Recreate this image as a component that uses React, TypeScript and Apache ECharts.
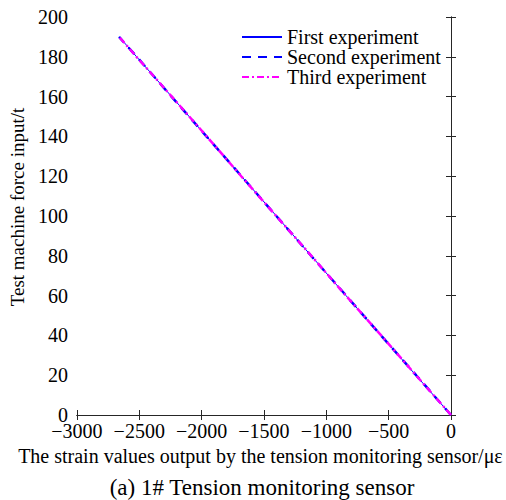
import React, { useEffect, useRef } from "react";
import * as echarts from "echarts";

const forceInput = [0, 20, 40, 60, 80, 100, 120, 140, 160, 180, 190];
const strainFirst = [0, -282, -561, -842, -1121, -1400, -1681, -1960, -2240, -2521, -2660];
const strainSecond = [0, -280, -562, -841, -1122, -1401, -1680, -1961, -2241, -2520, -2662];
const strainThird = [0, -281, -560, -843, -1120, -1402, -1682, -1959, -2239, -2522, -2661];
const seriesNames = ["First experiment", "Second experiment", "Third experiment"];
const caption = "(a) 1# Tension monitoring sensor";

const FONT = "Liberation Serif";
const FS = 20;

export default function App() {
  const ref = useRef<HTMLDivElement>(null);
  useEffect(() => {
    if (!ref.current) return;
    const chart = echarts.init(ref.current, undefined, { renderer: "svg" });
    const toPairs = (xs: number[]) => xs.map((x, i) => [x, forceInput[i]]);
    const axisLine = { show: true, lineStyle: { color: "#262626", width: 1 } };
    const tick = { show: true, inside: true, length: 5, lineStyle: { color: "#262626" } };
    const minus = (v: number) => String(v).replace("-", "\u2212");
    chart.setOption({
      animation: false,
      backgroundColor: "#fff",
      textStyle: { fontFamily: FONT },
      grid: { left: 73, right: 55, top: 17, bottom: 85 },
      graphic: [
        {
          type: "text",
          style: {
            text: caption,
            x: 262,
            y: 487,
            align: "center",
            verticalAlign: "middle",
            fontFamily: FONT,
            fontSize: 23,
            fill: "#000",
          },
        },
      ],
      legend: {
        left: 236,
        top: 22,
        orient: "vertical",
        itemWidth: 40,
        itemHeight: 8,
        itemGap: 0,
        itemStyle: { opacity: 0 },
        textStyle: { fontFamily: FONT, fontSize: FS, color: "#000", lineHeight: 17.5 },
        data: seriesNames,
      },
      xAxis: [
        {
          type: "value",
          min: -3000,
          max: 0,
          interval: 500,
          position: "bottom",
          axisLine,
          axisTick: tick,
          axisLabel: { fontFamily: FONT, fontSize: FS, color: "#000", margin: 6, formatter: minus },
          splitLine: { show: false },
          name: "The strain values output by the tension monitoring sensor/\u03bc\u03b5",
          nameLocation: "middle",
          nameGap: 28,
          nameTextStyle: { fontFamily: FONT, fontSize: 20, color: "#000", padding: [0, 7, 0, 0] },
        },
        {
          type: "value",
          min: -3000,
          max: 0,
          interval: 500,
          position: "top",
          axisLine,
          axisTick: tick,
          axisLabel: { show: false },
          splitLine: { show: false },
        },
      ],
      yAxis: [
        {
          type: "value",
          min: 0,
          max: 200,
          interval: 20,
          position: "left",
          axisLine,
          axisTick: tick,
          axisLabel: { fontFamily: FONT, fontSize: FS, color: "#000", margin: 9 },
          splitLine: { show: false },
          name: "Test machine force input/t",
          nameLocation: "middle",
          nameGap: 45,
          nameTextStyle: { fontFamily: FONT, fontSize: 19, color: "#000", padding: [0, 0, 0, 18] },
        },
        {
          type: "value",
          min: 0,
          max: 200,
          interval: 20,
          position: "right",
          axisLine,
          axisTick: tick,
          axisLabel: { show: false },
          splitLine: { show: false },
        },
      ],
      series: [
        {
          name: seriesNames[0],
          type: "line",
          data: toPairs(strainFirst),
          symbol: "none",
          color: "#0000ff",
          lineStyle: { color: "#0000ff", width: 1 },
        },
        {
          name: seriesNames[1],
          type: "line",
          data: toPairs(strainSecond),
          symbol: "none",
          color: "#0000ff",
          lineStyle: { color: "#0000ff", width: 2.5, type: [9, 7] },
        },
        {
          name: seriesNames[2],
          type: "line",
          data: toPairs(strainThird),
          symbol: "none",
          color: "#ff00ff",
          lineStyle: { color: "#ff00ff", width: 2.5, type: [7, 3, 2, 3] },
        },
      ],
    });
    return () => chart.dispose();
  }, []);
  return (
    <div
      ref={ref}
      style={{ width: 506, height: 500, position: "fixed", left: 0, top: 0 }}
    />
  );
}
